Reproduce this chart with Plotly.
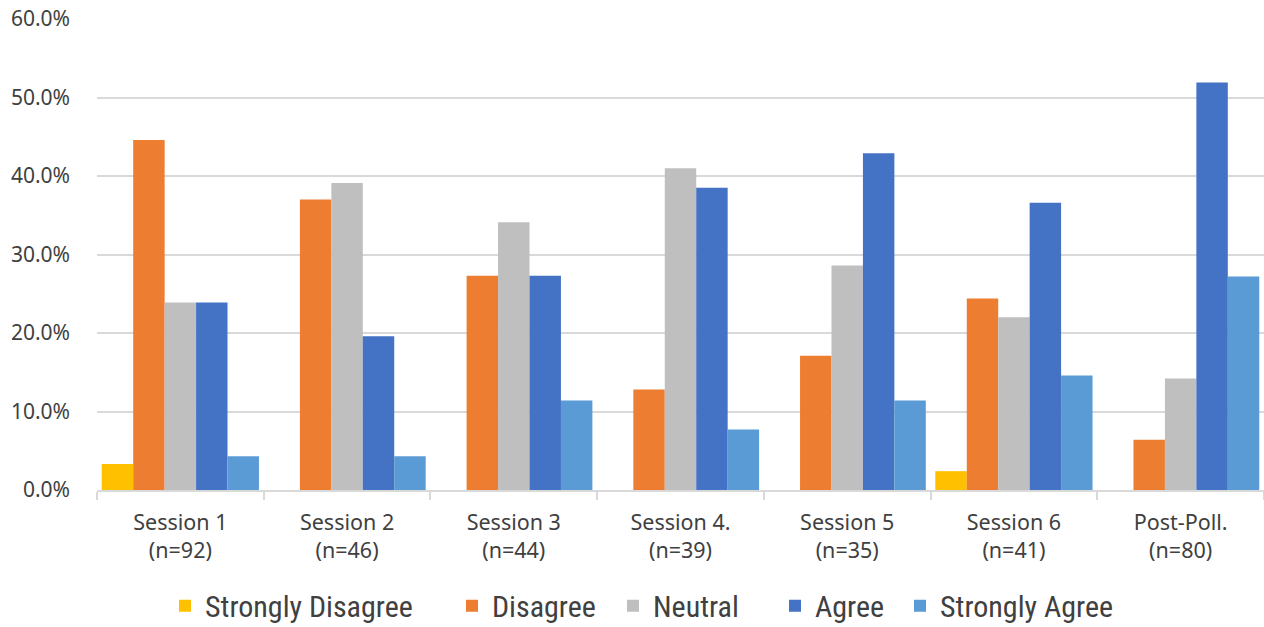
import plotly.graph_objects as go

sessions = ["Session 1<br>(n=92)", "Session 2<br>(n=46)", "Session 3<br>(n=44)",
            "Session 4.<br>(n=39)", "Session 5<br>(n=35)", "Session 6<br>(n=41)",
            "Post-Poll.<br>(n=80)"]

strongly_disagree = [3.3, 0.0, 0.0, 0.0, 0.0, 2.4, 0.0]
disagree = [44.6, 37.0, 27.3, 12.8, 17.1, 24.4, 6.4]
neutral = [23.9, 39.1, 34.1, 41.0, 28.6, 22.0, 14.2]
agree = [23.9, 19.6, 27.3, 38.5, 42.9, 36.6, 51.9]
strongly_agree = [4.3, 4.3, 11.4, 7.7, 11.4, 14.6, 27.2]

series = [
    ("Strongly Disagree", strongly_disagree, "#FFC000"),
    ("Disagree", disagree, "#ED7D31"),
    ("Neutral", neutral, "#BFBFBF"),
    ("Agree", agree, "#4472C4"),
    ("Strongly Agree", strongly_agree, "#5B9BD5"),
]

# each legend entry gets its own legend box so the entries can be spaced freely
legend_ids = ["legend", "legend2", "legend3", "legend4", "legend5"]
legend_left_px = [165, 452, 613, 775, 900]

fig = go.Figure()
for (name, vals, color), lid in zip(series, legend_ids):
    fig.add_trace(go.Bar(
        x=sessions, y=vals, name=name, legend=lid,
        marker=dict(color=color, line=dict(width=0)),
    ))

legend_font = dict(family="Liberation Sans Narrow, Roboto Condensed, Roboto, sans-serif",
                   size=30, color="#404040")
layout_legends = {}
for lid, px in zip(legend_ids, legend_left_px):
    layout_legends[lid] = dict(
        orientation="h", xref="container", x=px / 1264, xanchor="left",
        yref="container", y=0.034, yanchor="middle",
        font=legend_font, itemwidth=30, bgcolor="rgba(0,0,0,0)",
    )

fig.update_layout(
    width=1264, height=627,
    barmode="group", bargap=0.057, bargroupgap=0,
    plot_bgcolor="white", paper_bgcolor="white",
    margin=dict(l=97, r=0, t=19, b=137, autoexpand=False),
    font=dict(family="Noto Sans, Open Sans, sans-serif", color="#404040", size=19),
    showlegend=True,
    **layout_legends,
)
fig.update_yaxes(
    range=[0, 60], dtick=10, tickformat=".1f", ticksuffix="%",
    showgrid=True, gridcolor="#D9D9D9", gridwidth=1.5,
    zeroline=False, showline=False, ticks="",
    tickfont=dict(size=21, color="#404040"), ticklabelstandoff=26,
)
fig.update_xaxes(
    showline=True, linecolor="#D9D9D9", linewidth=1.5,
    ticks="outside", tickson="boundaries", ticklen=8, tickcolor="#D9D9D9", tickwidth=1.5,
    tickfont=dict(size=21.5, color="#404040"), ticklabelstandoff=12, tickangle=0,
)

fig.write_html("out.html")
